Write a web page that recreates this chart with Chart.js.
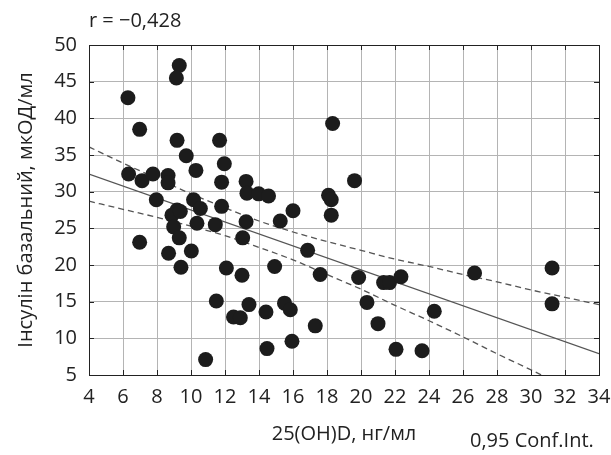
<!DOCTYPE html>
<html>
<head>
<meta charset="utf-8">
<script src="https://cdn.jsdelivr.net/npm/chart.js@4"></script>
<style>
  html,body{margin:0;padding:0;background:#fff;}
  #wrap{width:611px;height:455px;position:relative;}
</style>
</head>
<body>
<div id="wrap"><canvas id="c"></canvas></div>
<script>
// ─── DATA ───────────────────────────────────────────────────────────────────
const vitD = [6.29,6.98,6.33,7.12,7.76,7.96,8.65,8.65,9.31,9.14,9.18,9.72,10.29,10.15,10.55,9.18,8.88,9.37,10.35,8.98,
  9.31,6.98,8.68,10.02,9.41,10.86,11.68,11.96,11.8,11.8,11.43,11.49,12.08,12.5,12.9,13.0,13.04,13.24,13.24,13.29,
  13.41,13.98,14.56,14.41,14.47,14.92,15.25,15.5,15.84,16.0,15.94,16.86,17.31,17.6,18.09,18.25,18.25,18.33,19.62,19.86,
  20.35,21.0,21.33,21.68,22.06,22.35,23.59,24.31,26.68,31.24,31.24];
const insulin = [42.8,38.5,32.4,31.5,32.4,28.9,32.2,31.2,47.2,45.5,37.0,34.9,32.9,28.9,27.7,27.5,26.8,27.3,25.7,25.2,
  23.7,23.1,21.6,21.9,19.7,7.1,37.0,33.8,31.3,28.0,25.5,15.1,19.6,12.9,12.8,18.6,23.7,25.9,31.4,29.8,
  14.6,29.7,29.4,13.6,8.6,19.8,26.0,14.8,13.9,27.4,9.6,22.0,11.7,18.7,29.5,28.9,26.8,39.3,31.5,18.3,
  14.9,12.0,17.6,17.6,8.5,18.4,8.3,13.7,18.9,19.6,14.7];
const fitX = [4,34];
const fitY = [32.4,7.9];
const bandX = [4,6,8,10,12,14,16,18,20,22,24,26,28,30,32,34];
const bandUpper = [36.1,33.9,31.8,29.7,27.8,26.0,24.5,23.2,22.0,20.8,19.8,18.7,17.7,16.6,15.6,14.6];
const bandLower = [28.7,27.6,26.5,25.3,24.0,22.4,20.7,18.7,16.7,14.5,12.4,10.2,7.9,5.7,3.4,1.2];
const xTicks = [4,6,8,10,12,14,16,18,20,22,24,26,28,30,32,34];
const yTicks = [5,10,15,20,25,30,35,40,45,50];
const rLabel = 'r = \u22120,428';
const ciLabel = '0,95 Conf.Int.';
const xTitle = '25(OH)D, нг/мл';
const yTitle = 'Інсулін базальний, мкОД/мл';

const FONT = "'Open Sans', 'DejaVu Sans', sans-serif";
const pts = (xs,ys)=>xs.map((x,i)=>({x,y:ys[i]}));

// box + inner tick marks + free texts
const frame = {
  id:'frame',
  afterDatasetsDraw(ch){
    const {ctx,chartArea:a,scales:{x,y}} = ch;
    ctx.save();
    ctx.strokeStyle='#222'; ctx.lineWidth=1;
    ctx.strokeRect(Math.round(a.left)+0.5,Math.round(a.top)+0.5,Math.round(a.right-a.left),Math.round(a.bottom-a.top));
    ctx.beginPath();
    for(const v of xTicks){ const px=Math.round(x.getPixelForValue(v))+0.5;
      ctx.moveTo(px,a.top); ctx.lineTo(px,a.top+5); ctx.moveTo(px,a.bottom); ctx.lineTo(px,a.bottom-5); }
    for(const v of yTicks){ const py=Math.round(y.getPixelForValue(v))+0.5;
      ctx.moveTo(a.left,py); ctx.lineTo(a.left+5,py); ctx.moveTo(a.right,py); ctx.lineTo(a.right-5,py); }
    ctx.stroke();
    ctx.fillStyle='#222'; ctx.font='20px '+FONT; ctx.textBaseline='middle'; ctx.textAlign='left';
    ctx.fillText(rLabel,a.left,21);
    ctx.fillText(ciLabel,470,441);
    ctx.restore();
  }
};

new Chart(document.getElementById('c'),{
  type:'scatter',
  data:{datasets:[
    {data:pts(vitD,insulin),backgroundColor:'#1c1c1c',borderWidth:0,pointRadius:7.5,pointHoverRadius:7.5},
    {data:pts(fitX,fitY),showLine:true,borderColor:'#555',borderWidth:1.3,pointRadius:0},
    {data:pts(bandX,bandUpper),showLine:true,borderColor:'#555',borderWidth:1.3,borderDash:[6,4],pointRadius:0,cubicInterpolationMode:'monotone'},
    {data:pts(bandX,bandLower),showLine:true,borderColor:'#555',borderWidth:1.3,borderDash:[6,4],pointRadius:0,cubicInterpolationMode:'monotone'}
  ]},
  options:{
    responsive:true,maintainAspectRatio:false,animation:false,
    layout:{padding:{top:45,right:0,left:0,bottom:0}},
    plugins:{legend:{display:false},tooltip:{enabled:false}},
    scales:{
      x:{type:'linear',min:4,max:34,
        afterFit:s=>{s.height=80;s.paddingRight=12;},
        afterBuildTicks:s=>{s.ticks=xTicks.map(v=>({value:v}));},
        grid:{color:'#b4b4b4',drawTicks:false},border:{display:false},
        ticks:{color:'#222',font:{family:FONT,size:20},padding:10,maxRotation:0,autoSkip:false},
        title:{display:true,text:xTitle,color:'#222',font:{family:FONT,size:20},padding:{top:0,bottom:9}}},
      y:{type:'linear',min:5,max:50,
        afterFit:s=>{s.width=89;},
        afterBuildTicks:s=>{s.ticks=yTicks.map(v=>({value:v}));},
        grid:{color:'#b4b4b4',drawTicks:false},border:{display:false},
        ticks:{color:'#222',font:{family:FONT,size:20},padding:12},
        title:{display:true,text:yTitle,color:'#222',font:{family:FONT,size:20},padding:{top:14,bottom:0}}}
    }
  },
  plugins:[frame]
});
</script>
</body>
</html>
